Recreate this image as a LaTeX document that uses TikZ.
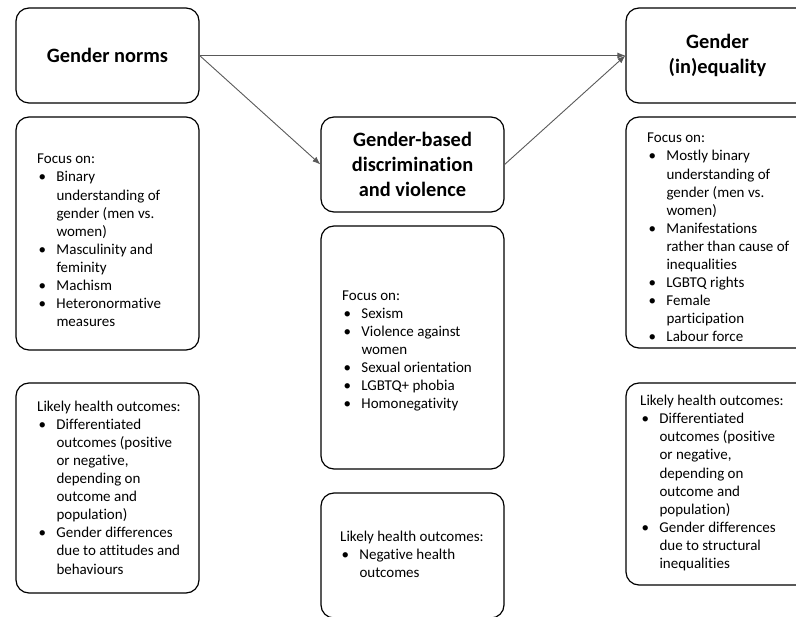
\documentclass[tikz,border=0pt]{standalone}
\usepackage{fontspec}
\setmainfont{Carlito}[Ligatures={NoCommon,NoContextual},RawFeature=-calt]
\usetikzlibrary{arrows.meta}

\newcommand{\bul}{\makebox[19.3pt][l]{\hspace{1.5pt}\textbullet}}
\newcommand{\ind}{\hspace*{19.3pt}}

\begin{document}
\begin{tikzpicture}[x=1pt,y=-1pt,
    box/.style={draw=black,line width=1.2pt,rounded corners=13pt,minimum width=183pt,inner sep=0pt,fill=white},
    head/.style={box,minimum height=95pt,align=center,font=\fontsize{20.4}{25}\selectfont\bfseries},
    body/.style={anchor=north west,inner sep=0pt,align=left,font=\fontsize{15}{18.1}\selectfont},
    link/.style={draw=black!65,line width=0.9pt,-{Latex[length=8pt,width=6pt]}}]
    \useasboundingbox (0,0) rectangle (796,617);

    % Define the headline boxes
    \node[head] (GN) at (107.5,55.5) {Gender norms};
    \node[head] (GBDV) at (412.5,164.5) {Gender-based\\discrimination\\and violence};
    \node[head] (GI) at (717.5,55.5) {Gender\\(in)equality};

    % Draw the focus boxes
    \node[box,minimum height=233pt] (FN) at (107.5,233.5) {};
    \node[box,minimum height=243pt] (FD) at (412.5,347.5) {};
    \node[box,minimum height=231pt] (FI) at (717.5,232.5) {};

    % Draw the health outcome boxes
    \node[box,minimum height=210pt] (HN) at (107.5,488) {};
    \node[box,minimum height=125pt] (HD) at (412.5,555.5) {};
    \node[box,minimum height=202pt] (HI) at (717.5,484) {};

    % Fill in the texts
    \node[body] (FNt) at (37,154) {Focus on:\\
        \bul Binary\\ \ind understanding of\\ \ind gender (men vs.\\ \ind women)\\
        \bul Masculinity and\\ \ind feminity\\
        \bul Machism\\
        \bul Heteronormative\\ \ind measures};
    \node[body] (FDt) at (342,290.5) {Focus on:\\
        \bul Sexism\\
        \bul Violence against\\ \ind women\\
        \bul Sexual orientation\\
        \bul LGBTQ+ phobia\\
        \bul Homonegativity};
    \node[body] (FIt) at (647,133) {Focus on:\\
        \bul Mostly binary\\ \ind understanding of\\ \ind gender (men vs.\\ \ind women)\\
        \bul Manifestations\\ \ind rather than cause of\\ \ind inequalities\\
        \bul LGBTQ rights\\
        \bul Female\\ \ind participation\\
        \bul Labour force};
    \node[body] (HNt) at (37,400.5) {Likely health outcomes:\\
        \bul Differentiated\\ \ind outcomes (positive\\ \ind or negative,\\ \ind depending on\\ \ind outcome and\\ \ind population)\\
        \bul Gender differences\\ \ind due to attitudes and\\ \ind behaviours};
    \node[body] (HDt) at (340,530.5) {Likely health outcomes:\\
        \bul Negative health\\ \ind outcomes};
    \node[body] (HIt) at (640,395) {Likely health outcomes:\\
        \bul Differentiated\\ \ind outcomes (positive\\ \ind or negative,\\ \ind depending on\\ \ind outcome and\\ \ind population)\\
        \bul Gender differences\\ \ind due to structural\\ \ind inequalities};

    % Draw the connectors
    \draw[link] (GN.east) -- (GI.west);
    \draw[link] (GN.east) -- (GBDV.west);
    \draw[link] (GBDV.east) -- (GI.west);
\end{tikzpicture}
\end{document}
